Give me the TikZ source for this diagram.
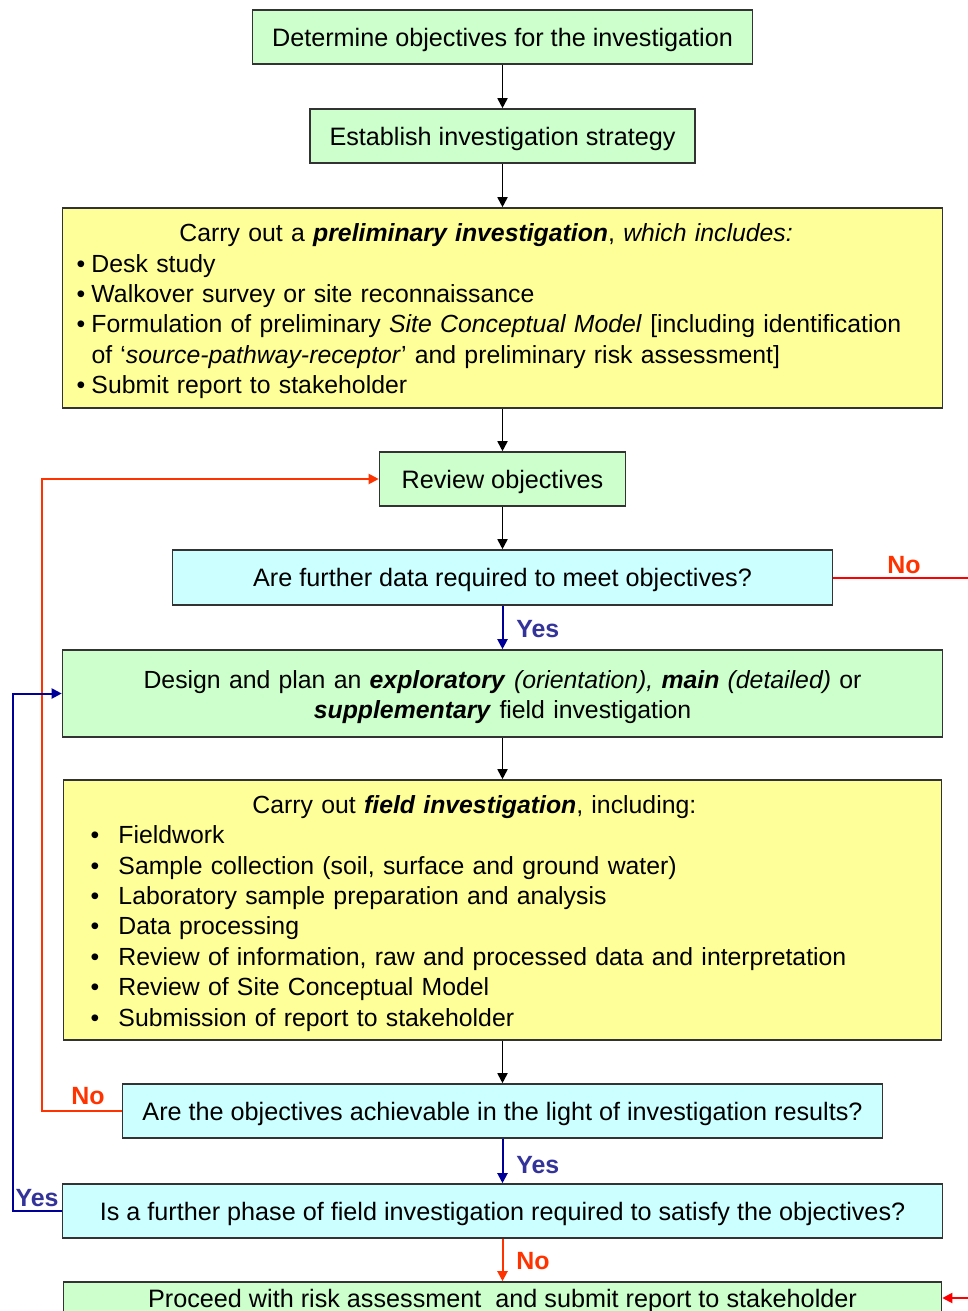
\documentclass[tikz,border=0pt]{standalone}
\usepackage{fontspec}
\setmainfont{Liberation Sans}
\usetikzlibrary{arrows.meta}
\definecolor{boxgreen}{HTML}{CCFFCC}
\definecolor{boxyellow}{HTML}{FFFF99}
\definecolor{boxcyan}{HTML}{CCFFFF}
\definecolor{noline}{HTML}{FF3300}
\definecolor{norightline}{HTML}{FF0000}
\definecolor{yesline}{HTML}{000099}
\definecolor{yestext}{HTML}{333399}
\newcommand{\bi}[1]{\textbf{\textit{#1}}}
\newcommand{\pbul}{\makebox[11.25pt][l]{•}}
\newcommand{\fbul}{\makebox[21pt][l]{•}}
\newcommand{\topgap}{\rule{0pt}{18.5pt}}

\begin{document}
\begin{tikzpicture}[x=0.75pt, y=-0.75pt, >={Triangle[length=7.5pt,width=7.5pt]},
    box/.style={draw=black!80, line width=1.2pt, inner sep=0pt, minimum height=40.5pt,
        font=\fontsize{18.6}{22.8}\selectfont},
    oneline/.style={text depth=0pt, font=\fontsize{18.9}{22.8}\selectfont},
    greenbox/.style={box, fill=boxgreen},
    yellowbox/.style={box, fill=boxyellow},
    cyanbox/.style={box, fill=boxcyan},
    flow/.style={->, line width=1.3pt, black},
    yesflow/.style={->, line width=1.5pt, yesline},
    noflow/.style={->, line width=1.5pt, noline},
    lab/.style={inner sep=0pt, font=\bfseries\fontsize{18.7}{22.8}\selectfont}]
        % Frame
        \useasboundingbox (0,0) rectangle (968,1311);
        \clip (0,0) rectangle (968,1311);

        % Boxes
        \node[greenbox, oneline, minimum width=375pt] (objectives) at (502.5,37) {Determine objectives for the investigation};
        \node[greenbox, oneline, minimum width=288.75pt] (strategy) at (502.5,136) {Establish investigation strategy};
        \node[yellowbox, text width=639pt, inner xsep=10.5pt, minimum height=150pt, align=left] (prelim) at (502.5,308) {%
            \topgap\hspace*{77.25pt}Carry out a \bi{preliminary investigation}, \textit{which includes:}\\
            \pbul Desk study\\
            \pbul Walkover survey or site reconnaissance\\
            \pbul Formulation of preliminary \textit{Site Conceptual Model} [including identification\\
            \hspace*{11.25pt}of ‘\textit{source-pathway-receptor}’ and preliminary risk assessment]\\
            \pbul Submit report to stakeholder};
        \node[greenbox, oneline, minimum width=184.5pt] (review) at (502.5,479) {Review objectives};
        \node[cyanbox, oneline, minimum width=495pt, minimum height=41.25pt] (moredata) at (502.5,577.5) {Are further data required to meet objectives?};
        \node[greenbox, text width=660pt, minimum height=65.25pt, align=center] (design) at (502.5,693.5) {%
            \topgap Design and plan an \bi{exploratory} \textit{(orientation),} \bi{main} \textit{(detailed)} or\\
            \bi{supplementary} field investigation};
        \node[yellowbox, text width=618pt, inner xsep=20.25pt, minimum height=195pt, align=left] (field) at (502.5,910) {%
            \topgap\hspace*{121.5pt}Carry out \bi{field investigation}, including:\\
            \fbul Fieldwork\\
            \fbul Sample collection (soil, surface and ground water)\\
            \fbul Laboratory sample preparation and analysis\\
            \fbul Data processing\\
            \fbul Review of information, raw and processed data and interpretation\\
            \fbul Review of Site Conceptual Model\\
            \fbul Submission of report to stakeholder};
        \node[cyanbox, oneline, minimum width=570pt] (achievable) at (502.5,1111) {Are the objectives achievable in the light of investigation results?};
        \node[cyanbox, oneline, minimum width=660pt] (furtherphase) at (502.5,1211) {Is a further phase of field investigation required to satisfy the objectives?};
        \node[greenbox, oneline, minimum width=658.5pt, minimum height=24pt] (proceed) at (502.5,1298) {Proceed with risk assessment \ and submit report to stakeholder};

        % Main flow
        \draw[flow] (objectives) -- (strategy);
        \draw[flow] (strategy) -- (prelim);
        \draw[flow] (prelim) -- (review);
        \draw[flow] (review) -- (moredata);
        \draw[yesflow] (moredata) -- (design);
        \draw[flow] (design) -- (field);
        \draw[flow] (field) -- (achievable);
        \draw[yesflow] (achievable) -- (furtherphase);
        \draw[noflow] (furtherphase) -- (proceed);

        % Loops back
        \draw[noflow] (achievable.west) -- ++(-80,0) |- (review.west);
        \draw[yesflow] (furtherphase.west) -- ++(-49,0) |- (design.west);
        \draw[->, line width=1.5pt, norightline] (moredata.east) -- (995,577.5) |- (proceed.east);

        % Labels
        \node[lab, yestext, anchor=west] (yes1) at (516,629) {Yes};
        \node[lab, yestext, anchor=west] (yes2) at (516,1165) {Yes};
        \node[lab, yestext] (yes3) at (37,1198) {Yes};
        \node[lab, noline] (no1) at (904,565) {No};
        \node[lab, noline] (no2) at (88,1096) {No};
        \node[lab, noline, anchor=west] (no3) at (516,1261) {No};
\end{tikzpicture}
\end{document}
